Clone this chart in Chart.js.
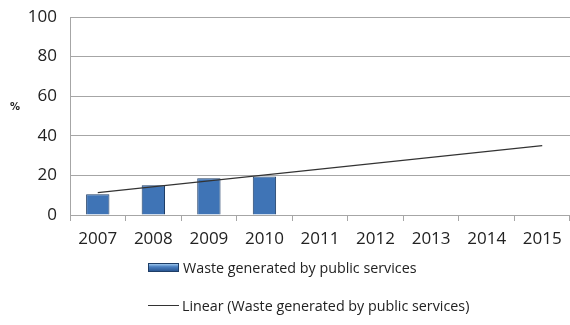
<!DOCTYPE html>
<html>
<head>
<meta charset="utf-8">
<script src="https://cdn.jsdelivr.net/npm/chart.js@4"></script>
<style>
  body { margin: 0; background: #fff; }
  #wrap { position: relative; width: 570px; height: 325px; }
  #legend { position: absolute; left: 148px; top: 256px; font-family: "Open Sans", sans-serif; font-size: 14.3px; color: #222; }
  .row { display: flex; align-items: center; height: 22px; margin-bottom: 16px; }
  .box { width: 29px; height: 7px; margin-right: 4px; border: 1px solid #1e3d66;
         background: linear-gradient(#9cc6ee, #4a7fc0 40%, #2a5793); }
  .line { width: 31px; height: 0; border-top: 1px solid #333; margin-right: 3px; }
</style>
</head>
<body>
<div id="wrap">
  <canvas id="myChart" width="570" height="325"></canvas>
  <div id="legend"></div>
</div>
<script>
const ctx = document.getElementById('myChart');

const years = ['2007', '2008', '2009', '2010', '2011', '2012', '2013', '2014', '2015'];
const waste = [10.5, 15, 18.5, 19.5, null, null, null, null, null];
const trend = [11.3, null, null, null, null, null, null, null, 35];
const yTicks = [0, 20, 40, 60, 80, 100];

const barLabel = 'Waste generated by public services';
const trendLabel = 'Linear (Waste generated by public services)';

function barFill(c) {
  const area = c.chart.chartArea;
  const el = c.element;
  if (!area || !el || el.y === undefined) return '#3f74b6';
  const g = c.chart.ctx.createLinearGradient(0, el.y, 0, el.base);
  g.addColorStop(0, '#a4ccf0');
  g.addColorStop(0.2, '#4a7fc0');
  g.addColorStop(1, '#27528c');
  return g;
}

const percentLabel = {
  id: 'percentLabel',
  afterDraw(chart) {
    const c = chart.ctx;
    c.save();
    c.font = 'bold 10px "DejaVu Sans", sans-serif';
    c.fillStyle = '#222';
    c.textAlign = 'center';
    c.textBaseline = 'middle';
    c.fillText('%', 15, 107);
    c.restore();
  }
};

new Chart(ctx, {
  type: 'bar',
  data: {
    labels: years,
    datasets: [{
      type: 'line',
      label: trendLabel,
      data: trend,
      borderColor: '#333',
      borderWidth: 1.2,
      pointRadius: 0,
      spanGaps: true,
      fill: false
    }, {
      label: barLabel,
      data: waste,
      backgroundColor: barFill,
      borderColor: '#1e3d66',
      borderWidth: 1,
      barPercentage: 0.42,
      categoryPercentage: 1
    }]
  },
  options: {
    responsive: false,
    animation: false,
    layout: { padding: { top: 17, right: 0, bottom: 75, left: 0 } },
    plugins: { legend: { display: false }, tooltip: { enabled: false } },
    scales: {
      x: {
        offset: true,
        afterFit(s) { s.height = 35; s.paddingLeft = 0; s.paddingRight = 0; },
        grid: { drawOnChartArea: false, drawTicks: true, tickLength: 6, color: '#a6a6a6', offset: true },
        border: { color: '#a6a6a6' },
        ticks: { color: '#222', font: { family: '"Open Sans", sans-serif', size: 17 }, padding: 8, maxRotation: 0 }
      },
      y: {
        min: 0,
        max: 100,
        afterFit(s) { s.width = 70; s.paddingTop = 0; s.paddingBottom = 0; },
        afterBuildTicks(s) { s.ticks = yTicks.map(v => ({ value: v })); },
        grid: { color: '#a6a6a6', drawTicks: false },
        border: { color: '#a6a6a6' },
        ticks: { color: '#222', font: { family: '"Open Sans", sans-serif', size: 17 }, padding: 13 }
      }
    }
  },
  plugins: [percentLabel]
});

document.getElementById('legend').innerHTML =
  '<div class="row"><span class="box"></span>' + barLabel + '</div>' +
  '<div class="row"><span class="line"></span>' + trendLabel + '</div>';
</script>
</body>
</html>
